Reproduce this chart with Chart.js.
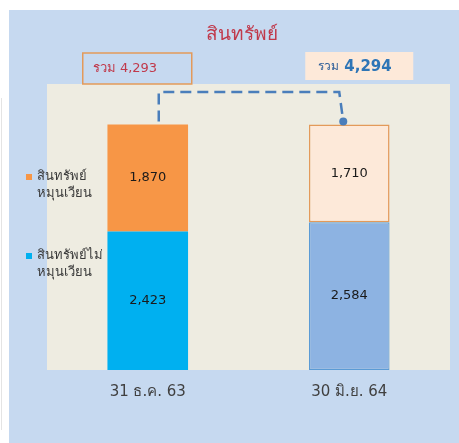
<!DOCTYPE html>
<html>
<head>
<meta charset="utf-8">
<script src="https://cdn.jsdelivr.net/npm/chart.js@4/dist/chart.umd.min.js"></script>
<style>
html,body{margin:0;padding:0;background:#fff;}
#c{display:block;}
</style>
</head>
<body>
<canvas id="c" width="459" height="443"></canvas>
<script>
const categories = ['31 ธ.ค. 63', '30 มิ.ย. 64'];
const nonCurrent = [2423, 2584];
const current = [1870, 1710];
const seriesNames = ['สินทรัพย์ไม่หมุนเวียน', 'สินทรัพย์หมุนเวียน'];
const legendLines = [['สินทรัพย์ไม่', 'หมุนเวียน'], ['สินทรัพย์', 'หมุนเวียน']];
const titleText = 'สินทรัพย์';
const totalPrefix = 'รวม';

const FONT = "Tahoma, 'DejaVu Sans', 'Noto Sans', sans-serif";
const fmt = v => v.toLocaleString('en-US');
const totals = categories.map((_, i) => current[i] + nonCurrent[i]);

const bgPlugin = {
  id: 'bg',
  beforeDraw(chart) {
    const ctx = chart.ctx, a = chart.chartArea;
    ctx.save();
    ctx.fillStyle = '#ffffff';
    ctx.fillRect(0, 0, chart.width, chart.height);
    ctx.fillStyle = '#c6d9f0';
    ctx.fillRect(9, 10, chart.width - 9, chart.height - 10);
    ctx.strokeStyle = '#e4e4e4';
    ctx.lineWidth = 1;
    ctx.beginPath(); ctx.moveTo(1.5, 98); ctx.lineTo(1.5, 430); ctx.stroke();
    ctx.fillStyle = '#eeece1';
    ctx.fillRect(a.left, a.top, a.right - a.left, a.bottom - a.top);
    ctx.restore();
  }
};

const overlayPlugin = {
  id: 'overlay',
  afterDatasetsDraw(chart) {
    const ctx = chart.ctx;
    ctx.save();
    // data labels
    ctx.font = "13px " + FONT;
    ctx.fillStyle = '#1a1a1a';
    ctx.textAlign = 'center';
    ctx.textBaseline = 'middle';
    chart.data.datasets.forEach((ds, di) => {
      chart.getDatasetMeta(di).data.forEach((el, i) => {
        ctx.fillText(fmt(ds.data[i]), el.x, (el.y + el.base) / 2);
      });
    });
    const top0 = chart.getDatasetMeta(1).data[0];
    const top1 = chart.getDatasetMeta(1).data[1];
    // dashed connector
    ctx.strokeStyle = '#4a7ebb';
    ctx.lineWidth = 2.5;
    ctx.setLineDash([11, 6]);
    ctx.beginPath();
    ctx.moveTo(top0.x + 11, top0.y - 3);
    ctx.lineTo(top0.x + 11, 92);
    ctx.lineTo(top1.x - 10, 92);
    ctx.lineTo(top1.x - 6, top1.y - 3);
    ctx.stroke();
    ctx.setLineDash([]);
    ctx.fillStyle = '#4a7ebb';
    ctx.beginPath();
    ctx.arc(top1.x - 6, top1.y - 3, 4, 0, Math.PI * 2);
    ctx.fill();
    // total box 1
    ctx.strokeStyle = '#e39a5a';
    ctx.lineWidth = 1.5;
    ctx.strokeRect(top0.x - 65, 53, 109, 31);
    ctx.textAlign = 'left';
    ctx.fillStyle = '#c0394b';
    ctx.font = "13px " + FONT;
    ctx.fillText(totalPrefix + ' ' + fmt(totals[0]), top0.x - 55, 69);
    // total box 2
    ctx.fillStyle = '#fde9d9';
    ctx.fillRect(top1.x - 44, 52, 108, 28);
    ctx.fillStyle = '#2f5f9a';
    ctx.font = "12px " + FONT;
    ctx.fillText(totalPrefix, top1.x - 31, 67);
    ctx.fillStyle = '#2e75b6';
    ctx.font = "bold 15px " + FONT;
    ctx.fillText(fmt(totals[1]), top1.x - 5, 67);
    // title
    ctx.textAlign = 'center';
    ctx.fillStyle = '#c0394b';
    ctx.font = "19px " + FONT;
    ctx.fillText(titleText, 242, 35);
    // legend
    const legendOrder = [1, 0];
    const legY = [177, 256];
    ctx.textAlign = 'left';
    ctx.font = "13px " + FONT;
    legendOrder.forEach((di, k) => {
      const ds = chart.data.datasets[di];
      ctx.fillStyle = ds.backgroundColor[0];
      ctx.fillRect(26, legY[k] - 3, 6, 6);
      ctx.fillStyle = '#3a3a3a';
      legendLines[di].forEach((ln, j) => {
        ctx.fillText(ln, 37, legY[k] + j * 17);
      });
    });
    ctx.restore();
  }
};

new Chart(document.getElementById('c'), {
  type: 'bar',
  data: {
    labels: categories,
    datasets: [
      {
        label: seriesNames[0],
        data: nonCurrent,
        backgroundColor: ['#00b0f0', '#8db3e2'],
        borderColor: ['#00b0f0', '#5b9bd5'],
        borderWidth: [0, 1.2],
        borderSkipped: false
      },
      {
        label: seriesNames[1],
        data: current,
        backgroundColor: ['#f79646', '#fde9d9'],
        borderColor: ['#f79646', '#e39a5a'],
        borderWidth: [0, 1.5],
        borderSkipped: false
      }
    ]
  },
  options: {
    responsive: false,
    animation: false,
    devicePixelRatio: 1,
    barPercentage: 0.4,
    categoryPercentage: 1,
    layout: { padding: { left: 47, right: 9, top: 84, bottom: 29 } },
    plugins: { legend: { display: false }, tooltip: { enabled: false }, title: { display: false } },
    scales: {
      x: {
        stacked: true,
        grid: { display: false, drawTicks: false, tickLength: 0 },
        border: { display: false },
        ticks: { color: '#404040', font: { size: 15, family: FONT }, padding: 13 }
      },
      y: { stacked: true, display: false, min: 0, max: 5000 }
    }
  },
  plugins: [bgPlugin, overlayPlugin]
});
</script>
</body>
</html>
